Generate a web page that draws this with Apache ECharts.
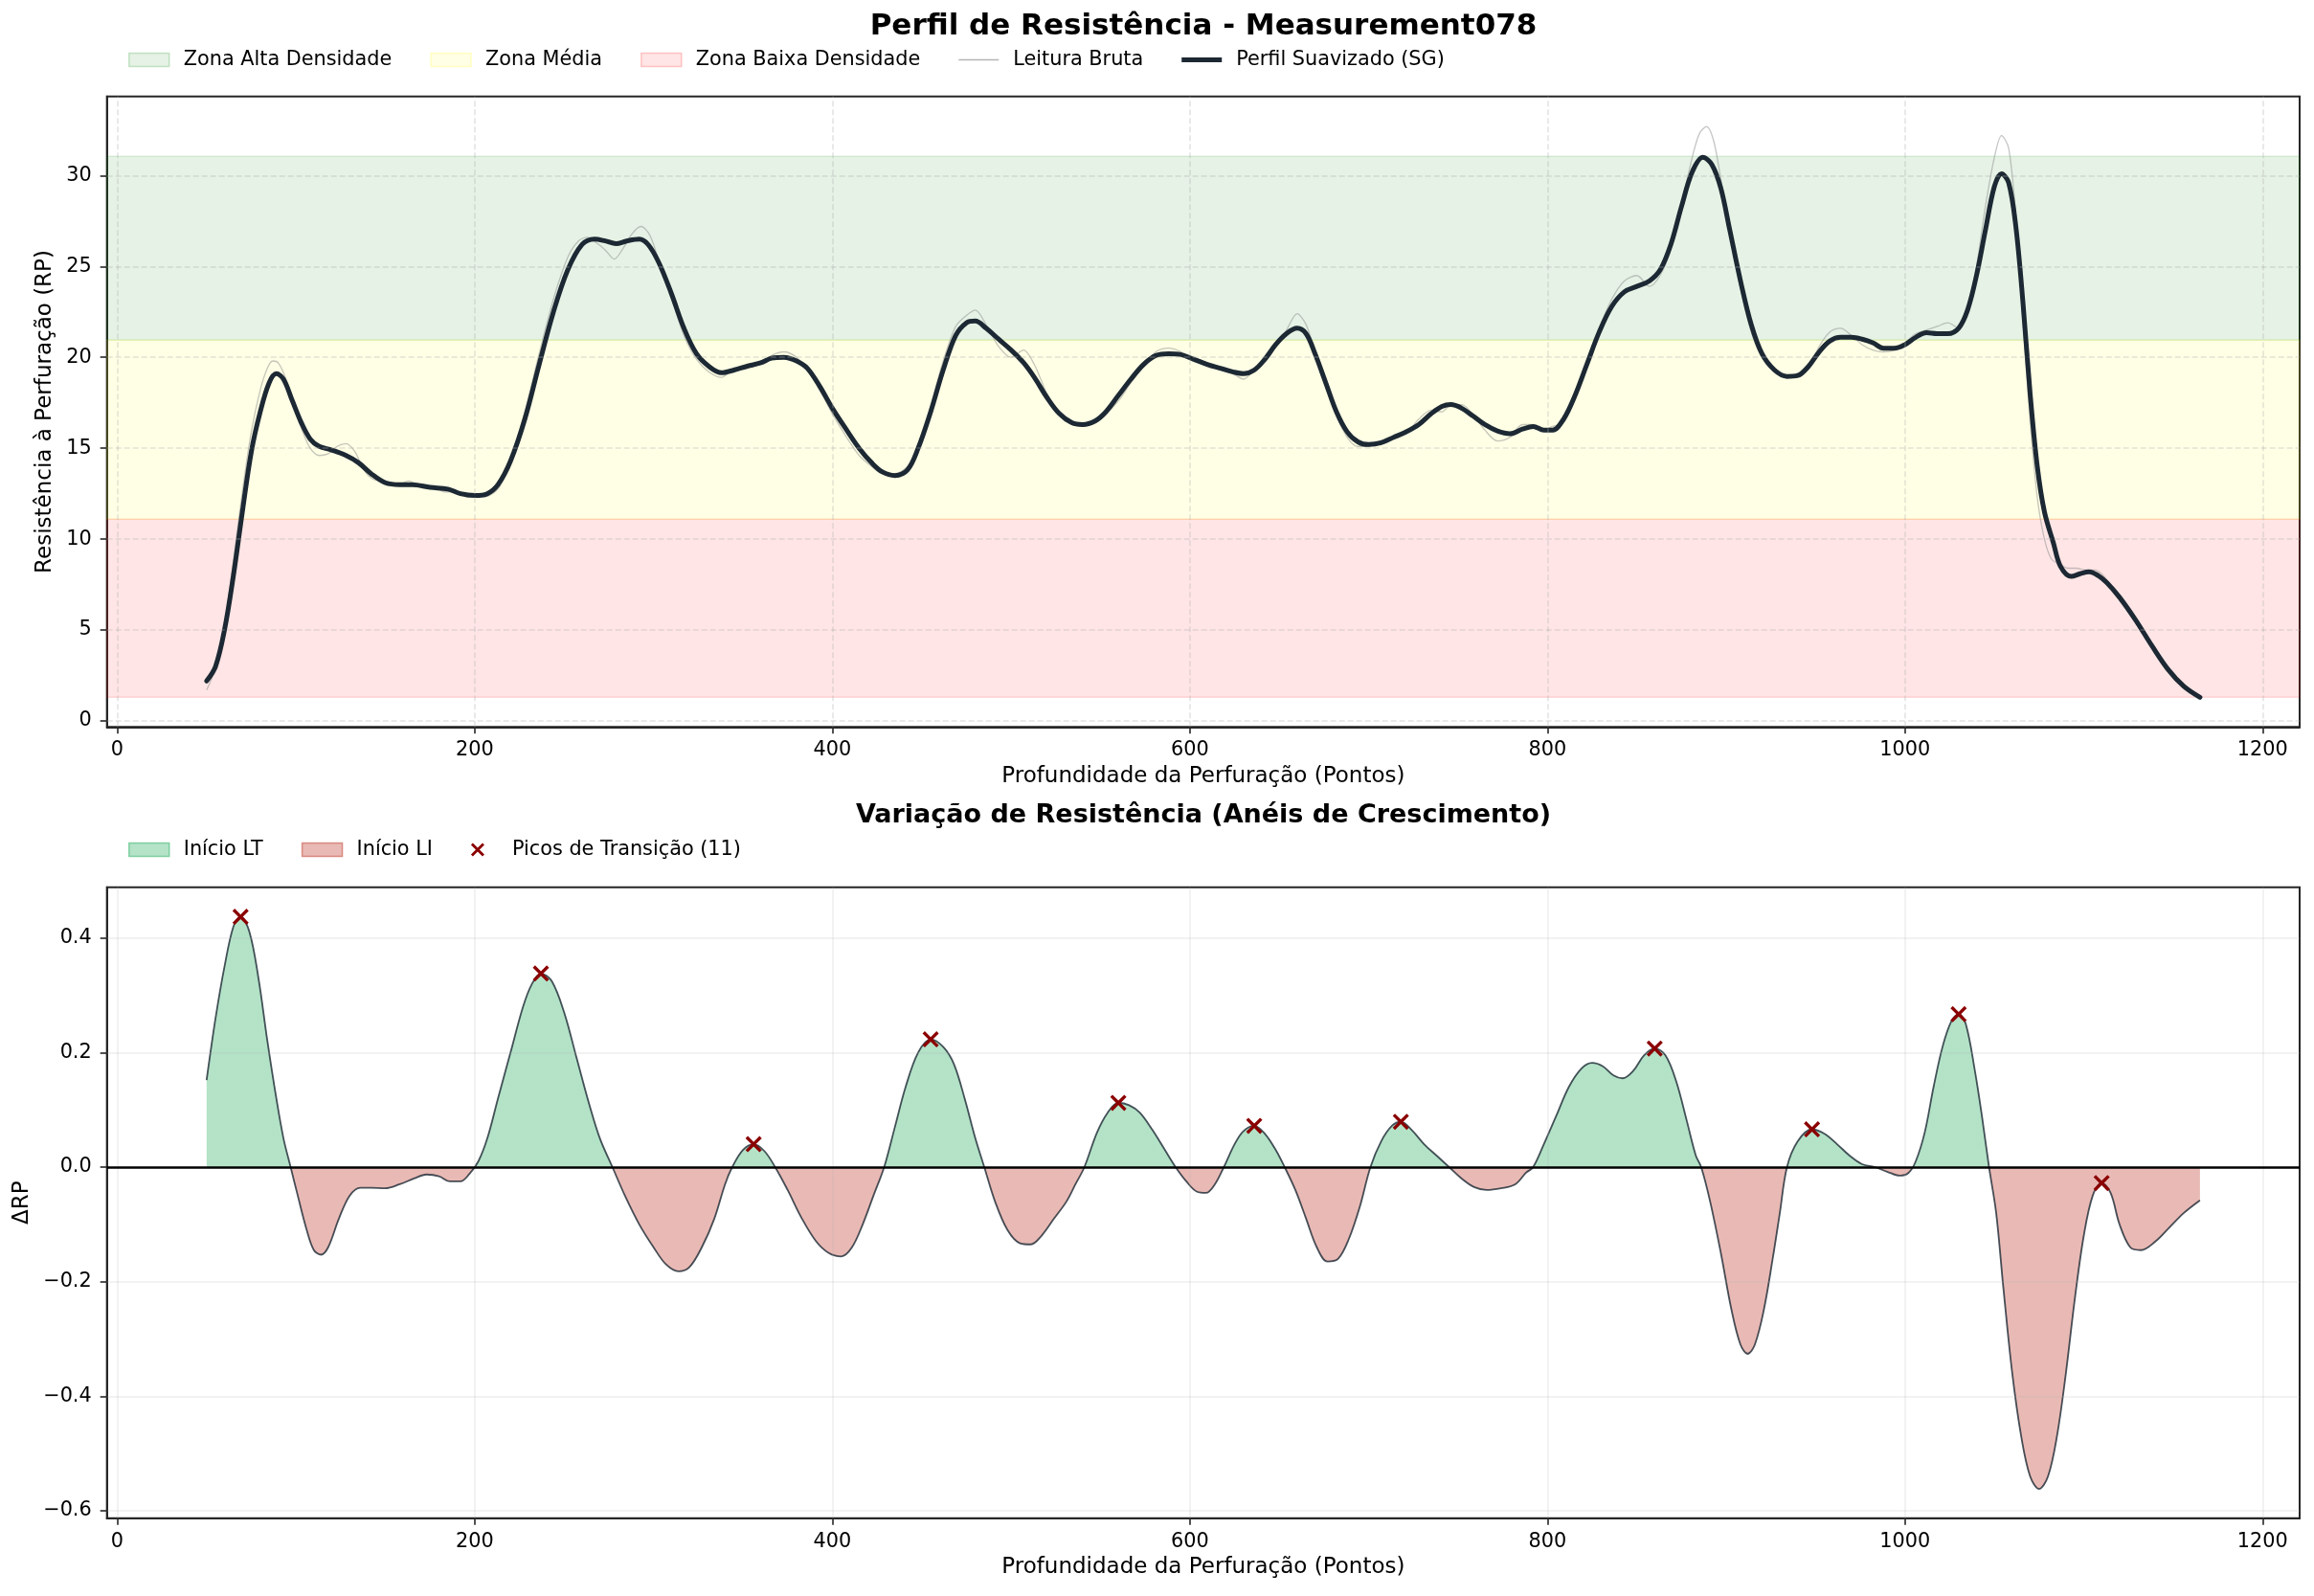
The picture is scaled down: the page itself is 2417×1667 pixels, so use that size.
<!DOCTYPE html>
<html><head><meta charset="utf-8">
<script src="https://cdn.jsdelivr.net/npm/echarts@6/dist/echarts.min.js"></script>
<style>html,body{margin:0;padding:0;background:#fff}#c{width:2417px;height:1667px}</style>
</head><body><div id="c"></div>
<script>
// ---------- data ----------
const smX = [50,55,60,65,70,75,80,85,89,93,98,103,108,113,120,128,135,142,150,158,165,175,185,192,200,207,213,220,228,236,244,252,260,267,273,279,285,292,297,303,310,317,324,331,338,345,352,360,366,373,380,386,393,400,408,415,422,428,435,442,448,455,462,469,475,480,486,493,500,507,513,520,527,534,540,547,553,560,567,574,581,588,595,602,610,617,624,630,636,642,648,654,660,665,670,676,682,688,694,700,707,714,721,728,735,741,746,752,758,765,772,779,786,792,798,803,809,815,822,829,836,843,850,857,863,869,875,881,887,892,897,902,908,914,920,927,934,940,946,952,958,964,970,976,982,988,994,1000,1006,1012,1018,1024,1030,1035,1040,1045,1050,1054,1058,1062,1066,1070,1074,1078,1083,1087,1093,1098,1103,1108,1113,1120,1129,1138,1147,1156,1165];
const smY = [2.2,3.0,5.0,8.0,11.5,14.8,17.0,18.6,19.1,18.8,17.6,16.4,15.5,15.1,14.9,14.6,14.2,13.6,13.1,13.0,13.0,12.85,12.75,12.5,12.4,12.5,13.0,14.3,16.6,19.6,22.5,24.8,26.2,26.5,26.4,26.25,26.4,26.5,26.2,25.2,23.5,21.6,20.2,19.5,19.15,19.3,19.5,19.7,19.95,20.0,19.8,19.4,18.4,17.2,16.0,15.0,14.2,13.7,13.5,13.8,15.0,17.0,19.3,21.2,21.9,22.0,21.6,21.0,20.4,19.7,18.9,17.8,16.9,16.4,16.3,16.5,17.0,17.9,18.8,19.6,20.1,20.2,20.15,19.9,19.6,19.4,19.2,19.1,19.3,19.9,20.7,21.3,21.6,21.3,20.2,18.6,17.0,15.9,15.35,15.2,15.3,15.6,15.9,16.3,16.9,17.3,17.4,17.2,16.8,16.3,15.95,15.8,16.05,16.2,16.0,16.0,16.6,17.8,19.6,21.4,22.8,23.6,23.9,24.2,24.8,26.2,28.3,30.2,31.0,30.6,29.3,27.0,24.2,21.8,20.2,19.3,18.95,19.0,19.5,20.3,20.9,21.1,21.1,21.0,20.8,20.5,20.5,20.7,21.1,21.35,21.3,21.3,21.6,22.6,24.5,27.0,29.4,30.1,29.6,27.2,23.0,18.0,14.0,11.5,9.8,8.5,7.95,8.1,8.2,8.0,7.6,6.8,5.55,4.15,2.85,1.9,1.3];

const rawX = [50,53,57,61,65,70,75,80,84,87,90,94,98,103,108,113,118,123,128,133,138,143,150,157,163,170,177,183,190,196,202,208,214,220,228,236,244,252,258,263,268,273,278,283,288,293,298,303,310,317,324,331,338,345,352,359,366,373,380,386,393,400,408,415,422,428,435,442,448,455,462,469,475,480,486,493,500,507,513,520,527,534,540,547,553,560,567,574,581,588,595,602,610,617,624,630,636,642,648,654,660,665,670,676,682,688,694,700,707,714,721,728,735,741,746,752,758,765,772,779,786,792,798,803,809,815,822,829,836,843,850,857,863,869,875,881,885,889,893,897,902,908,914,920,927,934,940,946,952,958,964,970,976,982,988,994,1000,1006,1012,1018,1024,1030,1035,1040,1045,1050,1054,1058,1062,1066,1070,1074,1078,1082,1087,1091,1096,1101,1106,1111,1116,1122,1129,1138,1147,1156,1165];
const rawY = [1.7,2.4,3.9,5.9,8.8,12.6,15.9,18.2,19.4,19.8,19.7,18.9,17.5,16.1,15.0,14.6,14.7,15.1,15.25,14.8,13.8,13.3,13.2,13.0,13.2,12.9,12.9,12.6,12.6,12.3,12.3,12.4,12.9,14.4,17.0,20.2,23.2,25.5,26.4,26.6,26.3,25.9,25.4,26.0,26.8,27.2,26.7,25.3,23.3,21.2,19.9,19.2,18.9,19.4,19.5,19.6,20.1,20.3,20.0,19.3,18.2,16.9,15.6,14.6,14.0,13.6,13.6,14.0,15.0,17.3,19.8,21.7,22.3,22.6,21.8,20.6,20.0,20.4,19.6,18.0,16.8,16.3,16.2,16.6,16.9,17.6,18.6,19.5,20.3,20.5,20.3,19.8,19.7,19.3,19.1,18.8,19.3,19.8,20.6,21.5,22.4,21.8,20.3,18.4,16.8,15.6,15.1,15.1,15.4,15.6,15.8,16.6,17.1,17.0,17.4,17.4,16.9,16.0,15.4,15.6,16.3,16.3,16.0,16.2,16.4,17.6,19.5,21.6,23.2,24.2,24.5,23.9,24.5,25.9,28.4,31.0,32.3,32.7,31.9,29.8,27.0,23.8,21.4,20.0,19.2,18.9,18.9,19.4,20.6,21.4,21.6,21.2,20.7,20.4,20.3,20.4,20.8,21.3,21.5,21.7,21.9,21.6,22.8,25.0,28.3,31.0,32.2,31.5,27.8,22.0,16.5,12.3,10.0,8.9,8.6,8.4,8.4,8.3,8.3,8.0,7.3,6.5,5.5,4.1,2.9,1.9,1.3];

const dX = [50,55,60,65,69,74,79,84,89,93,97,101,106,110,114,118,124,130,136,142,150,158,166,173,180,186,192,197,202,207,213,220,227,232,237,243,250,257,264,270,277,284,292,300,307,314,320,327,334,340,344,350,356,362,368,375,383,391,398,405,411,417,423,429,435,441,448,455,462,468,474,480,485,491,498,505,511,517,524,531,536,541,548,554,560,566,572,579,586,592,598,604,609,614,619,625,630,636,642,648,653,659,665,671,677,683,689,695,701,707,713,718,724,731,738,745,752,759,766,774,782,788,792,798,805,812,819,825,831,837,842,848,854,860,866,872,878,883,886,891,897,903,908,912,916,921,926,930,934,940,948,955,962,969,976,983,990,997,1002,1006,1011,1016,1021,1026,1030,1034,1039,1043,1047,1051,1055,1060,1065,1070,1075,1080,1085,1090,1095,1100,1105,1110,1115,1120,1126,1132,1140,1148,1156,1165];
const dY = [0.152,0.26,0.35,0.42,0.437,0.41,0.33,0.22,0.12,0.05,0.0,-0.05,-0.11,-0.145,-0.153,-0.14,-0.09,-0.05,-0.036,-0.036,-0.037,-0.03,-0.02,-0.013,-0.016,-0.025,-0.025,-0.012,0.01,0.05,0.12,0.2,0.28,0.32,0.338,0.325,0.27,0.19,0.11,0.05,0.0,-0.05,-0.1,-0.14,-0.17,-0.182,-0.175,-0.14,-0.09,-0.03,0.0,0.03,0.04,0.028,0.0,-0.04,-0.09,-0.13,-0.15,-0.156,-0.14,-0.1,-0.05,0.0,0.07,0.14,0.2,0.223,0.21,0.18,0.12,0.05,0.0,-0.06,-0.11,-0.133,-0.135,-0.12,-0.09,-0.06,-0.03,0.0,0.06,0.095,0.112,0.108,0.095,0.065,0.03,0.0,-0.025,-0.043,-0.045,-0.03,0.0,0.04,0.063,0.072,0.058,0.03,0.0,-0.04,-0.09,-0.14,-0.165,-0.16,-0.125,-0.07,0.0,0.045,0.072,0.079,0.065,0.04,0.02,0.0,-0.02,-0.035,-0.04,-0.037,-0.03,-0.01,0.0,0.04,0.09,0.14,0.172,0.182,0.176,0.16,0.155,0.168,0.195,0.207,0.195,0.15,0.08,0.02,0.0,-0.06,-0.15,-0.25,-0.31,-0.326,-0.31,-0.25,-0.16,-0.08,0.0,0.045,0.066,0.058,0.04,0.02,0.005,0.0,-0.008,-0.015,-0.01,0.01,0.06,0.14,0.21,0.255,0.267,0.25,0.17,0.09,0.0,-0.08,-0.21,-0.36,-0.47,-0.54,-0.562,-0.54,-0.47,-0.36,-0.23,-0.12,-0.05,-0.028,-0.045,-0.1,-0.14,-0.145,-0.13,-0.105,-0.08,-0.058];

const peakX = [69,237,356,455,560,636,718,860,948,1030,1110];
const peakY = [0.437,0.338,0.04,0.223,0.112,0.072,0.079,0.207,0.066,0.267,-0.028];

const zoneNames = ['Zona Alta Densidade','Zona Média','Zona Baixa Densidade'];
const zoneBounds = [[20.95,31.05],[11.1,20.95],[1.3,11.1]];

const xTicks = [0,200,400,600,800,1000,1200];
const yTicksTop = [0,5,10,15,20,25,30];
const yTicksBottom = [-0.6,-0.4,-0.2,0,0.2,0.4];

// ---------- style ----------
const FONT = 'DejaVu Sans';
const TICK_FS = 20.8, LEG_FS = 20.8, NAME_FS = 23;
const zoneColors = [[0,128,0],[255,255,0],[255,0,0]];
const rgba = (c,a)=>`rgba(${c[0]},${c[1]},${c[2]},${a})`;
const GREEN = '#27ae60', RED = '#c0392b';
const XSYM = 'path://M1.4,0 L5,3.6 L8.6,0 L10,1.4 L6.4,5 L10,8.6 L8.6,10 L5,6.4 L1.4,10 L0,8.6 L3.6,5 L0,1.4 Z';
const LINE_THIN = 'path://M0,0 M42,14 M0,6.3 L42,6.3 L42,7.7 L0,7.7 Z';
const LINE_THICK = 'path://M0,0 M42,14 M0,4.6 L42,4.6 L42,9.4 L0,9.4 Z';
const FRAME = '#262626';

function xAx(gi){
  return {type:'value', gridIndex:gi, min:-5.75, max:1220.75,
    axisLine:{show:true, onZero:false, lineStyle:{color:FRAME, width:2}},
    axisTick:{show:true, length:7, customValues:xTicks, lineStyle:{color:FRAME, width:1.6}},
    axisLabel:{margin:14, customValues:xTicks, fontFamily:FONT, fontSize:TICK_FS, color:'#000', formatter: v => String(v)},
    splitLine:{show:false},
    name:'Profundidade da Perfuração (Pontos)', nameLocation:'middle', nameGap:40,
    nameTextStyle:{fontFamily:FONT, fontSize:NAME_FS, color:'#000'}};
}

const zoneSeries = zoneNames.map((n,i)=>({
  name:n, type:'line', xAxisIndex:0, yAxisIndex:0, data:[], color: rgba(zoneColors[i],0.1), z:1,
  markArea:{silent:true, label:{show:false},
    itemStyle:{color: rgba(zoneColors[i],0.1), borderColor: rgba(zoneColors[i],0.12), borderWidth:1.5},
    data:[[{yAxis:zoneBounds[i][0]},{yAxis:zoneBounds[i][1]}]]}
}));

const gridLinesTop = {name:'gridTop', type:'line', xAxisIndex:0, yAxisIndex:0, data:[], z:2,
  markLine:{silent:true, symbol:['none','none'], label:{show:false},
    lineStyle:{color:'rgba(176,176,176,0.35)', width:1.5, type:[6,3]},
    data:[...yTicksTop.map(v=>({yAxis:v})), ...xTicks.map(v=>({xAxis:v}))]}};
const gridLinesBottom = {name:'gridBottom', type:'line', xAxisIndex:1, yAxisIndex:1, data:[], z:1,
  markLine:{silent:true, symbol:['none','none'], label:{show:false},
    lineStyle:{color:'rgba(176,176,176,0.22)', width:1.5, type:'solid'},
    data:[...yTicksBottom.filter(v=>v!==0).map(v=>({yAxis:v})), ...xTicks.map(v=>({xAxis:v}))]}};

const option = {
  animation:false,
  backgroundColor:'#fff',
  grid:[
    {left:111.7, top:100.7, width:2290.3, height:658.6, show:true, borderColor:FRAME, borderWidth:2, backgroundColor:'transparent'},
    {left:111.7, top:926.7, width:2290.3, height:659, show:true, borderColor:FRAME, borderWidth:2, backgroundColor:'transparent'}
  ],
  xAxis:[xAx(0), xAx(1)],
  yAxis:[
    {type:'value', gridIndex:0, min:-0.33, max:34.35,
     axisLine:{show:true, onZero:false, lineStyle:{color:FRAME, width:2}},
     axisTick:{show:true, length:7, customValues:yTicksTop, lineStyle:{color:FRAME, width:1.6}},
     axisLabel:{margin:16, customValues:yTicksTop, fontFamily:FONT, fontSize:TICK_FS, color:'#000', formatter: v => String(v)},
     splitLine:{show:false},
     name:'Resistência à Perfuração (RP)', nameLocation:'middle', nameGap:52,
     nameTextStyle:{fontFamily:FONT, fontSize:NAME_FS, color:'#000'}},
    {type:'value', gridIndex:1, min:-0.613, max:0.4886,
     axisLine:{show:true, onZero:false, lineStyle:{color:FRAME, width:2}},
     axisTick:{show:true, length:7, customValues:yTicksBottom, lineStyle:{color:FRAME, width:1.6}},
     axisLabel:{margin:16, customValues:yTicksBottom, fontFamily:FONT, fontSize:TICK_FS, color:'#000',
       formatter: v => (v<0?'\u2212':'') + Math.abs(v).toFixed(1)},
     splitLine:{show:false},
     name:'ΔRP', nameLocation:'middle', nameGap:75,
     nameTextStyle:{fontFamily:FONT, fontSize:NAME_FS, color:'#000'}}
  ],
  legend:[
    {left:129, top:47, itemWidth:42, itemHeight:14, itemGap:40, selectedMode:false,
     textStyle:{fontFamily:FONT, fontSize:LEG_FS, color:'#000', padding:[0,0,0,10]},
     data:[
       {name:zoneNames[0], icon:'rect', itemStyle:{color:rgba(zoneColors[0],0.1), borderColor:rgba(zoneColors[0],0.2), borderWidth:1.5}},
       {name:zoneNames[1], icon:'rect', itemStyle:{color:rgba(zoneColors[1],0.1), borderColor:rgba(zoneColors[1],0.2), borderWidth:1.5}},
       {name:zoneNames[2], icon:'rect', itemStyle:{color:rgba(zoneColors[2],0.1), borderColor:rgba(zoneColors[2],0.2), borderWidth:1.5}},
       {name:'Leitura Bruta', icon:LINE_THIN, itemStyle:{color:'rgba(150,150,150,0.7)', borderWidth:0}},
       {name:'Perfil Suavizado (SG)', icon:LINE_THICK, itemStyle:{color:'#1c2833', borderWidth:0}}
     ]},
    {left:129, top:872, itemWidth:42, itemHeight:14, itemGap:40, selectedMode:false,
     textStyle:{fontFamily:FONT, fontSize:LEG_FS, color:'#000', padding:[0,0,0,10]},
     data:[
       {name:'Início LT', icon:'rect', itemStyle:{color:'rgba(39,174,96,0.35)', borderColor:'rgba(39,174,96,0.5)', borderWidth:1.5}},
       {name:'Início LI', icon:'rect', itemStyle:{color:'rgba(192,57,43,0.35)', borderColor:'rgba(192,57,43,0.5)', borderWidth:1.5}},
       {name:'Picos de Transição (11)', icon:XSYM, itemStyle:{color:'#8b0000', borderWidth:0}}
     ]}
  ],
  visualMap:[{type:'piecewise', show:false, seriesIndex:6, dimension:1,
    pieces:[{gt:0, lte:100, color:GREEN},{gte:-100, lte:0, color:RED}]}],
  graphic:[
    {type:'text', x:1257, y:28, style:{text:'Perfil de Resistência - Measurement078', font:`bold 31px "${FONT}"`, fill:'#000', textAlign:'center', textVerticalAlign:'middle'}},
    {type:'text', x:1257, y:852, style:{text:'Variação de Resistência (Anéis de Crescimento)', font:`bold 27px "${FONT}"`, fill:'#000', textAlign:'center', textVerticalAlign:'middle'}}
  ],
  series:[
    ...zoneSeries,
    gridLinesTop,
    {name:'Leitura Bruta', type:'line', xAxisIndex:0, yAxisIndex:0, symbol:'none', smooth:0.3,
     color:'rgba(150,150,150,0.7)', lineStyle:{width:1.3, color:'rgba(150,150,150,0.55)'}, z:3,
     data: rawX.map((x,i)=>[x, rawY[i]])},
    {name:'Perfil Suavizado (SG)', type:'line', xAxisIndex:0, yAxisIndex:0, symbol:'none', smooth:0.35,
     color:'#1c2833', lineStyle:{width:5, color:'#1c2833', cap:'round', join:'round'}, z:4,
     data: smX.map((x,i)=>[x, smY[i]])},
    {name:'area', type:'line', xAxisIndex:1, yAxisIndex:1, symbol:'none', smooth:0.35,
     lineStyle:{width:0}, areaStyle:{opacity:0.35}, z:2,
     data: dX.map((x,i)=>[x, dY[i]])},
    gridLinesBottom,
    {name:'curve', type:'line', xAxisIndex:1, yAxisIndex:1, symbol:'none', smooth:0.35,
     color:'rgba(28,40,51,0.8)', lineStyle:{width:1.8, color:'rgba(28,40,51,0.8)'}, z:4,
     data: dX.map((x,i)=>[x, dY[i]]),
     markLine:{silent:true, symbol:['none','none'], label:{show:false},
       lineStyle:{color:'#000', width:2.5, type:'solid'}, data:[{yAxis:0}]}},
    {name:'Início LT', type:'line', xAxisIndex:1, yAxisIndex:1, data:[], color:'rgba(39,174,96,0.35)'},
    {name:'Início LI', type:'line', xAxisIndex:1, yAxisIndex:1, data:[], color:'rgba(192,57,43,0.35)'},
    {name:'Picos de Transição (11)', type:'scatter', xAxisIndex:1, yAxisIndex:1, symbol:XSYM, symbolSize:17,
     symbolKeepAspect:true, itemStyle:{color:'#8b0000', opacity:1}, z:6,
     data: peakX.map((x,i)=>[x, peakY[i]])}
  ]
};
const chart = echarts.init(document.getElementById('c'), null, {renderer:'canvas'});
chart.setOption(option);
</script></body></html>
